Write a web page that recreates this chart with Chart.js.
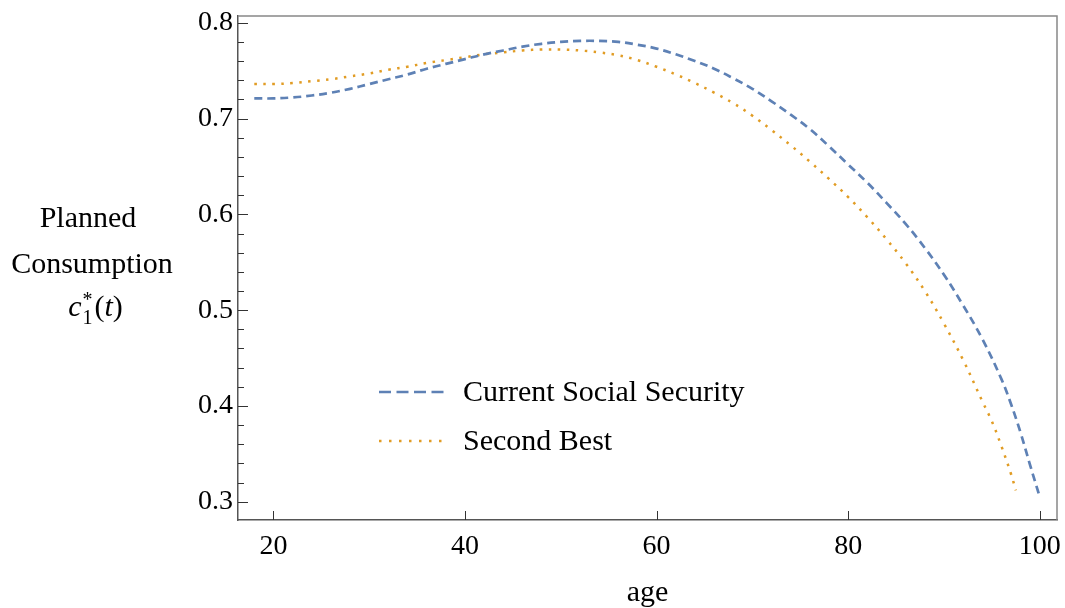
<!DOCTYPE html>
<html>
<head>
<meta charset="utf-8">
<script src="https://cdn.jsdelivr.net/npm/chart.js@4.4.1/dist/chart.umd.min.js"></script>
<style>
  html, body { margin: 0; padding: 0; background: #fff; }
  #wrap { width: 1065px; height: 608px; }
</style>
</head>
<body>
<div id="wrap"><canvas id="chart" width="1065" height="608"></canvas></div>
<script>
// planned consumption by age, two policy regimes
const ages_current = [18, 20, 22, 24, 26, 28, 30, 32, 34, 36, 38, 40, 42, 44, 46, 48, 50, 52, 54, 56, 58, 60,
    62, 64, 66, 68, 70, 72, 74, 76, 78, 80, 82, 84, 86, 88, 90, 92, 94, 96, 97, 98, 99, 100];
const current_ss = [0.721, 0.721, 0.722, 0.724, 0.727, 0.731, 0.736, 0.741, 0.746, 0.752, 0.757, 0.762, 0.767,
    0.771, 0.775, 0.778, 0.780, 0.781, 0.781, 0.780, 0.777, 0.773, 0.767, 0.760, 0.752, 0.742, 0.731, 0.718,
    0.704, 0.689, 0.671, 0.652, 0.633, 0.612, 0.590, 0.565, 0.537, 0.505, 0.470, 0.428, 0.402, 0.372, 0.338, 0.305];

const ages_second = [18, 20, 22, 24, 26, 28, 30, 32, 34, 36, 38, 40, 42, 44, 46, 48, 50, 52, 54, 56, 58, 60,
    62, 64, 66, 68, 70, 72, 74, 76, 78, 80, 82, 84, 86, 88, 90, 92, 94, 95, 96, 97, 97.5];
const second_best = [0.736, 0.736, 0.737, 0.739, 0.741, 0.744, 0.747, 0.751, 0.754, 0.758, 0.761, 0.764, 0.767,
    0.769, 0.771, 0.772, 0.772, 0.771, 0.769, 0.766, 0.761, 0.754, 0.746, 0.737, 0.727, 0.716, 0.703, 0.688,
    0.672, 0.655, 0.637, 0.618, 0.597, 0.574, 0.549, 0.520, 0.486, 0.448, 0.405, 0.384, 0.358, 0.329, 0.312];

const series_labels = ['Current Social Security', 'Second Best'];
const x_tick_labels = [20, 40, 60, 80, 100];
const y_tick_labels = [0.3, 0.4, 0.5, 0.6, 0.7, 0.8];

const SERIF = '"Liberation Serif", "Times New Roman", serif';
const BLUE = '#5e81b5';
const ORANGE = '#e19c24';
const INK = '#000';

function toPoints(xs, ys) {
    let pts = [];
    for (let i = 0; i < xs.length; i++) pts.push({ x: xs[i], y: ys[i] });
    return pts;
}

function near(v, step) {
    return Math.abs(v / step - Math.round(v / step)) < 1e-6;
}

// inward ticks, full frame, legend inside the plot and the axis captions
const framePlugin = {
    id: 'frame',
    afterDraw(chart) {
        const ctx = chart.ctx;
        const area = chart.chartArea;
        const xs = chart.scales.x, ys = chart.scales.y;
        ctx.save();

        // top and right edges of the frame
        ctx.strokeStyle = '#888';
        ctx.lineWidth = 1.5;
        ctx.beginPath();
        ctx.moveTo(area.left, area.top);
        ctx.lineTo(area.right, area.top);
        ctx.lineTo(area.right, area.bottom);
        ctx.stroke();

        ctx.strokeStyle = '#333';
        ctx.lineWidth = 1;
        ys.ticks.forEach(t => {
            if (!near(t.value, 0.02)) return;
            const y = Math.round(ys.getPixelForValue(t.value)) + 0.5;
            const len = near(t.value, 0.1) ? 10 : 6;
            ctx.beginPath();
            ctx.moveTo(area.left, y);
            ctx.lineTo(area.left + len, y);
            ctx.stroke();
        });
        xs.ticks.forEach(t => {
            if (!near(t.value, 20)) return;
            const x = Math.round(xs.getPixelForValue(t.value)) + 0.5;
            ctx.beginPath();
            ctx.moveTo(x, area.bottom);
            ctx.lineTo(x, area.bottom - 9);
            ctx.stroke();
        });

        // legend
        const ds = chart.data.datasets;
        const rows = [392, 441];
        ctx.textBaseline = 'middle';
        ctx.textAlign = 'left';
        ctx.font = '30px ' + SERIF;
        ds.forEach((d, i) => {
            ctx.strokeStyle = d.borderColor;
            ctx.lineWidth = d.borderWidth;
            ctx.setLineDash(i == 0 ? [12, 5.5] : [2.5, 7.5]);
            ctx.beginPath();
            ctx.moveTo(379, rows[i]);
            ctx.lineTo(445, rows[i]);
            ctx.stroke();
            ctx.setLineDash([]);
            ctx.fillStyle = INK;
            ctx.fillText(d.label, 463, rows[i] + 1);
        });

        // axis captions
        ctx.fillStyle = INK;
        ctx.textAlign = 'center';
        ctx.textBaseline = 'alphabetic';
        ctx.font = '30px ' + SERIF;
        ctx.fillText('age', (area.left + area.right) / 2, 601);
        ctx.fillText('Planned', 88, 227);
        ctx.fillText('Consumption', 92, 273);

        // c_1^*(t)
        const parts = [
            { s: 'c', f: 'italic 30px ' + SERIF, dy: 0 },
            { s: '1', f: '20px ' + SERIF, dy: 8, stack: true },
            { s: '*', f: '20px ' + SERIF, dy: -10 },
            { s: '(', f: '30px ' + SERIF, dy: 0, gap: 2 },
            { s: 't', f: 'italic 30px ' + SERIF, dy: 0 },
            { s: ')', f: '30px ' + SERIF, dy: 0 }
        ];
        let widths = parts.map(p => { ctx.font = p.f; return ctx.measureText(p.s).width; });
        let total = 0;
        parts.forEach((p, i) => {
            if (p.stack) return;
            total += widths[i] + (p.gap || 0);
        });
        total += Math.max(widths[1], widths[2]) - widths[2];
        let x = 95 - total / 2;
        ctx.textAlign = 'left';
        parts.forEach((p, i) => {
            ctx.font = p.f;
            if (p.stack) {
                ctx.fillText(p.s, x + 1, 316 + p.dy);
                return;
            }
            if (i == 2) {
                ctx.fillText(p.s, x + 1, 316 + p.dy);
                x += Math.max(widths[1], widths[2]) + 1;
                return;
            }
            x += (p.gap || 0);
            ctx.fillText(p.s, x, 316 + p.dy);
            x += widths[i];
        });
        ctx.restore();
    }
};

const ctx = document.getElementById('chart').getContext('2d');
const chart = new Chart(ctx, {
    type: 'line',
    data: {
        datasets: [
            {
                label: series_labels[0],
                data: toPoints(ages_current, current_ss),
                borderColor: BLUE,
                borderWidth: 2.7,
                borderDash: [8, 5],
                pointRadius: 0,
                fill: false,
                tension: 0.4
            },
            {
                label: series_labels[1],
                data: toPoints(ages_second, second_best),
                borderColor: ORANGE,
                borderWidth: 2.5,
                borderDash: [2.5, 6.5],
                pointRadius: 0,
                fill: false,
                tension: 0.4
            }
        ]
    },
    options: {
        responsive: false,
        devicePixelRatio: 1,
        animation: false,
        layout: { padding: { left: 0, right: 8, top: 16, bottom: 0 } },
        plugins: { legend: { display: false }, tooltip: { enabled: false } },
        scales: {
            x: {
                type: 'linear',
                min: 16.3,
                max: 101.8,
                border: { display: true, color: '#555', width: 1.5 },
                grid: { display: false, drawTicks: false },
                ticks: {
                    stepSize: 20,
                    includeBounds: false,
                    padding: 10,
                    color: INK,
                    font: { family: SERIF, size: 28 },
                    maxRotation: 0,
                    autoSkip: false,
                    callback: v => x_tick_labels.includes(Math.round(v)) && near(v, 20) ? String(Math.round(v)) : ''
                },
                afterFit: s => { s.height = 88; s.paddingLeft = 0; s.paddingRight = 0; }
            },
            y: {
                type: 'linear',
                min: 0.281,
                max: 0.807,
                border: { display: true, color: '#555', width: 1.5 },
                grid: { display: false, drawTicks: false },
                ticks: {
                    stepSize: 0.02,
                    includeBounds: false,
                    padding: 5,
                    color: INK,
                    font: { family: SERIF, size: 28 },
                    autoSkip: false,
                    callback: v => {
                        if (!near(v, 0.1)) return '';
                        const r = Math.round(v * 10) / 10;
                        return y_tick_labels.includes(r) ? r.toFixed(1) : '';
                    }
                },
                afterFit: s => { s.width = 238; s.paddingTop = 0; s.paddingBottom = 0; }
            }
        }
    },
    plugins: [framePlugin]
});
</script>
</body>
</html>
